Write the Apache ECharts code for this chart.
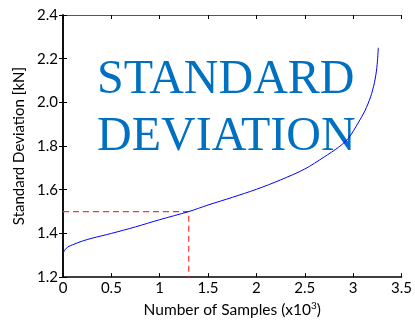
<!DOCTYPE html>
<html>
<head>
<meta charset="utf-8">
<script src="https://cdn.jsdelivr.net/npm/echarts@6/dist/echarts.min.js"></script>
<style>
html,body{margin:0;padding:0;background:#fff;}
#chart{width:415px;height:323px;}
</style>
</head>
<body>
<div id="chart"></div>
<script>
// Standard deviation vs. number of samples (thousands)
const samples = [0, 0.02, 0.05, 0.1, 0.2, 0.3, 0.5, 0.75, 1.0, 1.3, 1.5, 1.75, 2.0, 2.25, 2.5, 2.7, 2.85, 2.95, 3.05, 3.12, 3.18, 3.22, 3.245, 3.26];
const stdDev = [1.31, 1.325, 1.338, 1.348, 1.365, 1.378, 1.40, 1.43, 1.463, 1.50, 1.53, 1.565, 1.602, 1.645, 1.695, 1.75, 1.795, 1.835, 1.905, 1.96, 2.025, 2.09, 2.16, 2.25];
const markerX = 1.3;
const markerY = 1.5;
const xTicks = [0, 0.5, 1, 1.5, 2, 2.5, 3, 3.5];

const chart = echarts.init(document.getElementById('chart'));
const labelFont = {fontFamily: 'Lato', fontSize: 15, color: '#000'};
const lineStyle = {color: '#000', width: 1.5};

chart.setOption({
  animation: false,
  grid: {left: 63, right: 13, top: 15, bottom: 40},
  xAxis: [
    {
      type: 'value', min: 0, max: 3.5, interval: 0.5, position: 'bottom',
      axisLine: {lineStyle: lineStyle},
      axisTick: {inside: true, length: 4, lineStyle: {color: '#000'}},
      axisLabel: Object.assign({margin: 4, formatter: v => xTicks.includes(v) ? String(v) : ''}, labelFont),
      splitLine: {show: false},
      name: 'Number of Samples (x10{sup|3})',
      nameLocation: 'middle', nameGap: 22,
      nameTextStyle: {fontFamily: 'Lato', fontSize: 15.5, color: '#000',
        rich: {sup: {fontFamily: 'Lato', fontSize: 10, verticalAlign: 'top', padding: [0, 0, 8, 0]}}}
    },
    {
      type: 'value', min: 0, max: 3.5, interval: 0.5, position: 'top',
      axisLine: {lineStyle: {color: '#555', width: 1}},
      axisTick: {inside: true, length: 4, lineStyle: {color: '#000'}},
      axisLabel: {show: false}, splitLine: {show: false}
    }
  ],
  yAxis: [
    {
      type: 'value', min: 1.2, max: 2.4, interval: 0.2, position: 'left',
      axisLine: {lineStyle: lineStyle},
      axisTick: {inside: true, length: 4, lineStyle: {color: '#000'}},
      axisLabel: Object.assign({margin: 5, formatter: v => v.toFixed(1)}, labelFont),
      splitLine: {show: false},
      name: 'Standard Deviation [kN]',
      nameLocation: 'middle', nameGap: 33, nameRotate: 90,
      nameTextStyle: {fontFamily: 'Lato', fontSize: 15, color: '#000'}
    },
    {
      type: 'value', min: 1.2, max: 2.4, interval: 0.2, position: 'right',
      axisLine: {lineStyle: lineStyle},
      axisTick: {inside: true, length: 4, lineStyle: {color: '#000'}},
      axisLabel: {show: false}, splitLine: {show: false}
    }
  ],
  series: [
    {
      type: 'line', xAxisIndex: 0, yAxisIndex: 0, symbol: 'none', smooth: 0.3,
      data: samples.map((x, i) => [x, stdDev[i]]),
      lineStyle: {color: '#0000ff', width: 1}, z: 3
    },
    {
      type: 'line', xAxisIndex: 0, yAxisIndex: 0, symbol: 'none',
      data: [[0, markerY], [markerX, markerY], [markerX, 1.2]],
      lineStyle: {color: '#ff3333', width: 1.2, type: [6, 4]}, z: 2
    }
  ],
  graphic: [
    {
      type: 'text', left: 97, top: 56,
      style: {text: 'STANDARD', fontFamily: 'Liberation Serif', fontSize: 48, fill: '#0070c0'}
    },
    {
      type: 'text', left: 97, top: 113,
      style: {text: 'DEVIATION', fontFamily: 'Liberation Serif', fontSize: 48, fill: '#0070c0'}
    }
  ]
});
</script>
</body>
</html>
